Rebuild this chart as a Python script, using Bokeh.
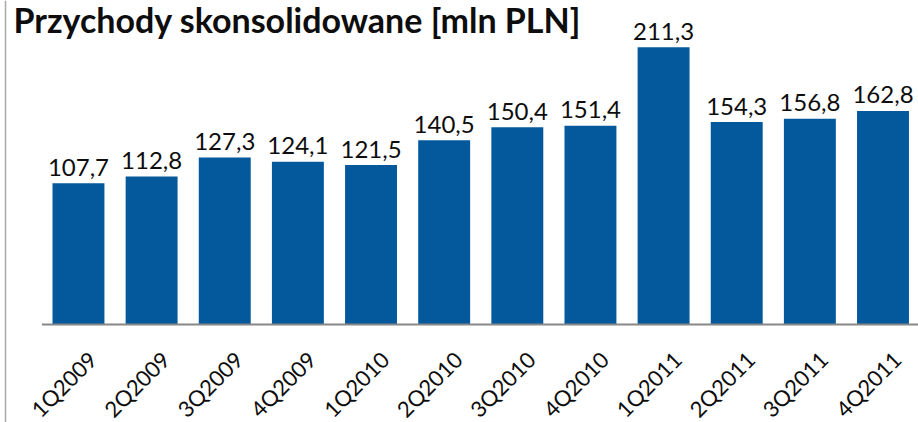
import math
from bokeh.plotting import figure
from bokeh.models import ColumnDataSource, Range1d, LabelSet, Label, Span
from bokeh.core.properties import value
from bokeh.embed import file_html
from bokeh.resources import INLINE

quarters = ["1Q2009", "2Q2009", "3Q2009", "4Q2009", "1Q2010", "2Q2010",
            "3Q2010", "4Q2010", "1Q2011", "2Q2011", "3Q2011", "4Q2011"]
revenue = [107.7, 112.8, 127.3, 124.1, 121.5, 140.5,
           150.4, 151.4, 211.3, 154.3, 156.8, 162.8]
labels = [f"{v:.1f}".replace(".", ",") for v in revenue]
title_text = "Przychody skonsolidowane [mln PLN]"

FONT = "Lato"
BAR = "#04599c"
TXT = "#0d0d0d"

W, H = 918, 422
SLOT = 73.14          # pixels per category slot
LEFT_PAD = 41.4       # pixels from left edge to first slot
PX = 1.312            # pixels per data unit (y)
AXIS_Y = 324          # pixel row of the category axis

n = len(quarters)
idx = list(range(n))
x_start = -0.5 - LEFT_PAD / SLOT
x_end = x_start + W / SLOT
y_end = AXIS_Y / PX
y_start = -(H - AXIS_Y) / PX

src = ColumnDataSource(dict(x=idx, q=quarters, v=revenue, t=labels))

p = figure(width=W, height=H, x_range=Range1d(x_start, x_end), y_range=Range1d(y_start, y_end),
           output_backend="svg", toolbar_location=None,
           min_border_left=0, min_border_right=0, min_border_top=0, min_border_bottom=0)
p.outline_line_color = None
p.background_fill_color = "white"
p.border_fill_color = "white"
p.grid.visible = False
p.xaxis.visible = False
p.yaxis.visible = False

# left frame line of the original slide
p.add_layout(Span(location=x_start + 5 / SLOT, dimension="height",
                  line_color="#a8a8a8", line_width=1.5))

# bars
p.vbar(x="x", top="v", width=0.71, source=src, color=BAR, line_color=None)

# category axis line
p.line(x=[-0.5, n - 0.5], y=[0, 0], line_color="#878787", line_width=2)

# value labels
p.text(x="x", y="v", text="t", source=src, text_align="center", text_baseline="alphabetic",
       y_offset=-16, text_font=value(FONT), text_font_size="24px", text_color=TXT)

# rotated category labels
p.add_layout(LabelSet(x="x", y=-31 / PX, text="q", source=src, x_offset=14,
                      angle=math.pi / 4, text_align="right", text_baseline="middle",
                      text_font=value(FONT), text_font_size="22px", text_color=TXT))

# title
p.add_layout(Label(x=x_start + 13 / SLOT, y=y_end - 19 / PX, text=title_text,
                   text_font=FONT, text_font_style="bold", text_font_size="34px",
                   text_color=TXT, text_baseline="alphabetic", text_align="left"))

open("out.html", "w").write(file_html(p, INLINE))
